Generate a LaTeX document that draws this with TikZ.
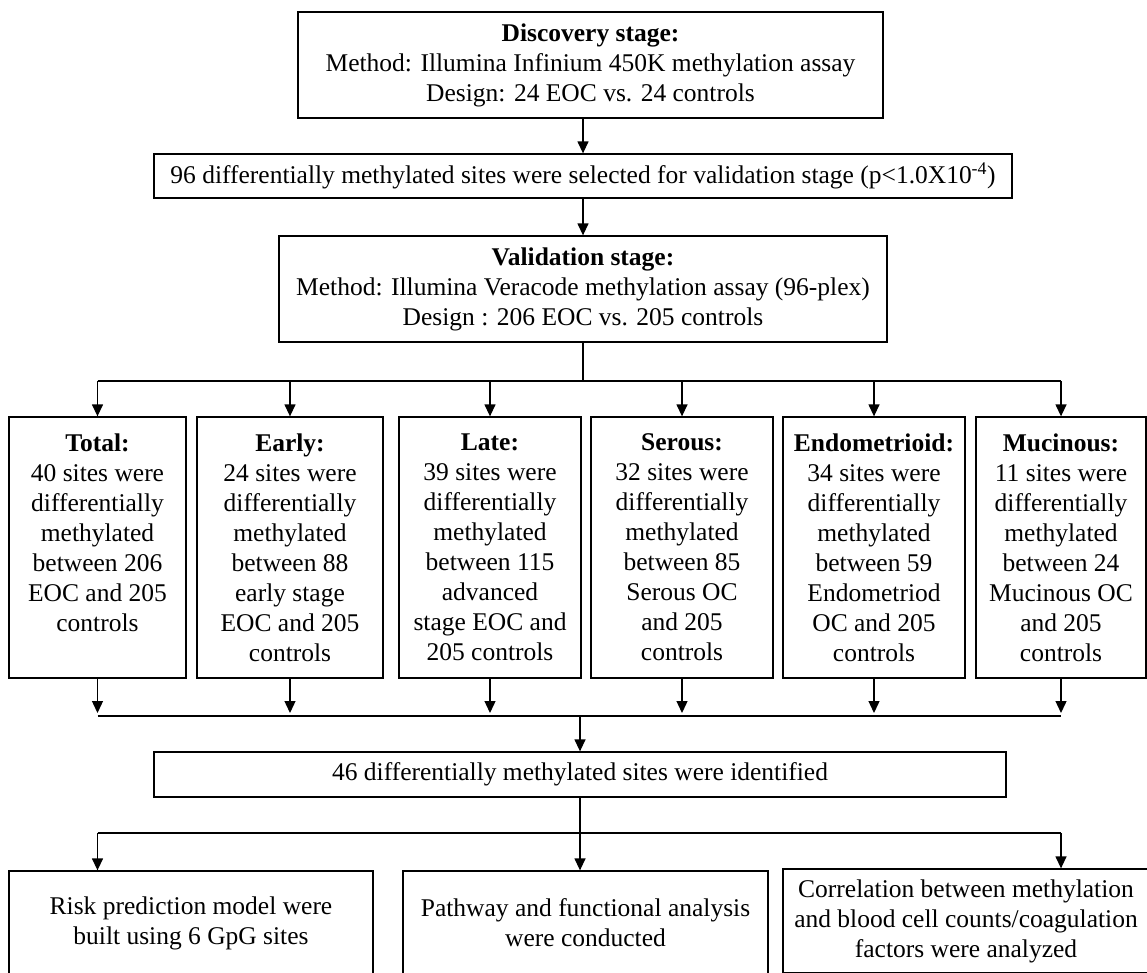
\documentclass[tikz,border=0pt]{standalone}
\usepackage{fontspec}
\setmainfont{Liberation Serif}
\usetikzlibrary{arrows.meta,calc}

\begin{document}
\begin{tikzpicture}[x=1pt,y=-1pt,line width=1.3pt,
  box/.style={draw, align=center, inner sep=0pt, font=\fontsize{25.5}{30}\selectfont},
  arr/.style={-{Triangle[width=11pt,length=12pt]}}]
\useasboundingbox (0,0) rectangle (1147,972);
\node[box, minimum width=585pt, minimum height=106pt] (disc) at (590.5,65)
  {\textbf{Discovery stage:}\\Method: Illumina Infinium 450K methylation assay\\Design: 24 EOC vs. 24 controls};
\node[box, minimum width=858pt, minimum height=44pt] (sel) at (583,176)
  {96 differentially methylated sites were selected for validation stage (p<1.0X10\textsuperscript{-4})};
\node[box, minimum width=608pt, minimum height=106pt] (val) at (583,289)
  {\textbf{Validation stage:}\\Method: Illumina Veracode methylation assay (96-plex)\\Design : 206 EOC vs. 205 controls};
\foreach \n/\x/\w/\t in {
  tot/97.5/177/{\textbf{Total:}\\40 sites were\\differentially\\methylated\\between 206\\EOC and 205\\controls\\\phantom{x}},
  early/290/186/{\textbf{Early:}\\24 sites were\\differentially\\methylated\\between 88\\early stage\\EOC and 205\\controls},
  late/490/182/{\textbf{Late:}\\39 sites were\\differentially\\methylated\\between 115\\advanced\\stage EOC and\\205 controls},
  ser/682/182/{\textbf{Serous:}\\32 sites were\\differentially\\methylated\\between 85\\Serous OC\\and 205\\controls},
  endo/874/182/{\textbf{Endometrioid:}\\34 sites were\\differentially\\methylated\\between 59\\Endometriod\\OC and 205\\controls},
  muc/1061/170/{\textbf{Mucinous:}\\11 sites were\\differentially\\methylated\\between 24\\Mucinous OC\\and 205\\controls}}
  \node[box, minimum width=\w pt, minimum height=261pt] (\n) at (\x,547.5) {\t};
\node[box, minimum width=852pt, minimum height=45pt] (ident) at (580,774.5)
  {46 differentially methylated sites were identified};
\node[box, minimum width=364pt, minimum height=104pt] (risk) at (191,923)
  {Risk prediction model were\\built using 6 GpG sites};
\node[box, minimum width=365pt, minimum height=104pt] (pathw) at (585.5,923)
  {Pathway and functional analysis\\were conducted};
\node[box, minimum width=366pt, minimum height=104pt] (corr) at (966,921)
  {Correlation between methylation\\and blood cell counts/coagulation\\factors were analyzed};
\coordinate (splitA) at (583,381);
\coordinate (mergeA) at (580,716);
\coordinate (splitB) at (580,833);
\draw[arr] (sel.north |- disc.south) -- (sel.north);
\draw[arr] (sel.south) -- (val.north);
\draw (val.south) -- (splitA);
\draw (tot.north |- splitA) -- (muc.north |- splitA);
\foreach \n in {tot,early,late,ser,endo,muc}{
  \draw[arr] (\n.north |- splitA) -- (\n.north);
  \draw[arr, shorten >=3pt] (\n.south) -- (\n.south |- mergeA);
}
\draw (tot.south |- mergeA) -- (muc.south |- mergeA);
\draw[arr] (mergeA) -- (mergeA |- ident.north);
\draw (ident.south -| splitB) -- (splitB);
\draw (tot.south |- splitB) -- (muc.south |- splitB);
\draw[arr] (tot.south |- splitB) -- (tot.south |- risk.north);
\draw[arr] (splitB) -- (splitB |- pathw.north);
\draw[arr] (muc.south |- splitB) -- (muc.south |- corr.north);
\end{tikzpicture}
\end{document}
